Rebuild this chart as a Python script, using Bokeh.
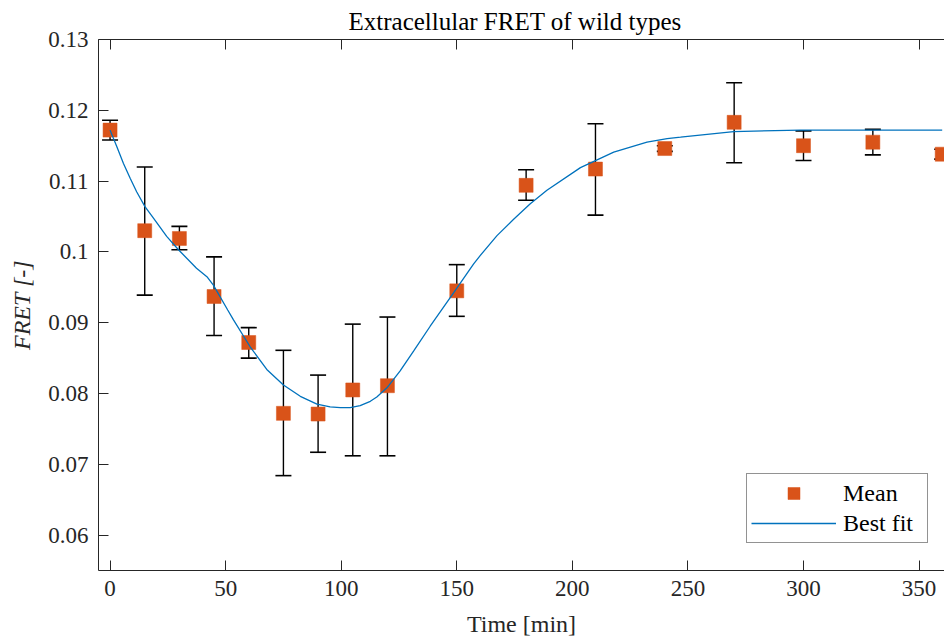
from bokeh.plotting import figure
from bokeh.models import (Range1d, LinearAxis, FixedTicker, Whisker, TeeHead,
                          ColumnDataSource, Legend, LegendItem)
from bokeh.embed import file_html
from bokeh.resources import INLINE

# ---------------- data ----------------
time_min = [0, 15, 30, 45, 60, 75, 90, 105, 120, 150, 180, 210, 240, 270, 300, 330, 360]
fret_mean = [0.1172, 0.1030, 0.1019, 0.0937, 0.0872, 0.0772, 0.0771, 0.0805, 0.0811,
             0.0945, 0.1094, 0.1117, 0.1146, 0.1183, 0.1150, 0.1155, 0.1138]
fret_upper = [0.1186, 0.1120, 0.1036, 0.0993, 0.0893, 0.0861, 0.0826, 0.0898, 0.0908,
              0.0982, 0.1116, 0.1181, 0.1150, 0.1239, 0.1171, 0.1173, 0.1145]
fret_lower = [0.1158, 0.0939, 0.1003, 0.0882, 0.0850, 0.0684, 0.0717, 0.0712, 0.0712,
              0.0909, 0.1073, 0.1052, 0.1142, 0.1126, 0.1129, 0.1137, 0.1131]

fit_time = [0, 2.9, 5.8, 8.7, 11.5, 15.1, 18.7, 24.5, 29.6, 37.4, 41.9, 44.7, 50.9,
            53.4, 60.6, 67.8, 75.0, 82.3, 89.5, 95.2, 99.6, 103.9, 108.2, 112.6,
            115.4, 119.8, 125.5, 131.3, 138.5, 148.6, 157.3, 160.2, 167.4, 174.6,
            181.8, 189.0, 203.5, 217.9, 232.3, 241.0, 246.8, 269.8, 298.7, 360.0]
fit_fret = [0.1172, 0.1149, 0.1125, 0.1104, 0.1085, 0.1064, 0.1048, 0.1022, 0.1003,
            0.0977, 0.0965, 0.0953, 0.0918, 0.0904, 0.0866, 0.0834, 0.0812, 0.0796,
            0.0785, 0.0781, 0.0780, 0.0780, 0.0783, 0.0789, 0.0795, 0.0808, 0.0832,
            0.0860, 0.0895, 0.0942, 0.0983, 0.0995, 0.1023, 0.1046, 0.1068, 0.1087,
            0.1119, 0.1141, 0.1155, 0.1160, 0.1162, 0.1170, 0.1172, 0.1172]

x_ticks = [0, 50, 100, 150, 200, 250, 300, 350]
y_ticks = [0.06, 0.07, 0.08, 0.09, 0.10, 0.11, 0.12, 0.13]
y_tick_labels = ["0.06", "0.07", "0.08", "0.09", "0.1", "0.11", "0.12", "0.13"]

title_text = "Extracellular FRET of wild types"
x_label = "Time [min]"
y_label = "FRET [-]"
legend_labels = ["Mean", "Best fit"]

# ---------------- style ----------------
FONT = "Liberation Serif"
AX = "#262626"
ORANGE = "#D95319"
BLUE = "#0072BD"

p = figure(width=944, height=639, output_backend="svg", toolbar_location=None,
           x_range=Range1d(-5, 361), y_range=Range1d(0.055, 0.13),
           min_border_left=98, min_border_right=0, min_border_top=39,
           min_border_bottom=68, title=title_text)
p.outline_line_color = None
p.xgrid.visible = False
p.ygrid.visible = False
p.background_fill_color = "white"
p.border_fill_color = "white"

p.title.text_font = FONT
p.title.text_font_size = "25px"
p.title.text_font_style = "normal"
p.title.text_color = "black"
p.title.align = "left"
p.title.offset = 250

def style_axis(ax, size="23px"):
    ax.axis_line_color = AX
    ax.axis_line_width = 1
    ax.major_tick_line_color = AX
    ax.major_tick_line_width = 1
    ax.major_tick_in = 10
    ax.major_tick_out = 0
    ax.minor_tick_in = 0
    ax.minor_tick_out = 0
    ax.minor_tick_line_color = None
    ax.major_label_text_font = FONT
    ax.major_label_text_font_size = size
    ax.major_label_text_color = AX
    ax.axis_label_text_font = FONT
    ax.axis_label_text_font_size = "24px"
    ax.axis_label_text_color = AX
    ax.axis_label_text_font_style = "normal"

xa = p.xaxis[0]
style_axis(xa)
xa.ticker = FixedTicker(ticks=x_ticks)
xa.axis_label = x_label
xa.major_label_standoff = 10
xa.axis_label_standoff = 12

ya = p.yaxis[0]
style_axis(ya)
ya.ticker = FixedTicker(ticks=y_ticks)
ya.major_label_overrides = dict(zip(y_ticks, y_tick_labels))
ya.axis_label = y_label
ya.axis_label_text_font_style = "italic"
ya.major_label_standoff = 10
ya.axis_label_standoff = 10

# top box edge with inward ticks (drawn as minor ticks so no labels are produced)
top = LinearAxis(ticker=FixedTicker(ticks=[], minor_ticks=x_ticks))
style_axis(top)
top.minor_tick_line_color = AX
top.minor_tick_line_width = 1
top.minor_tick_in = 10
top.minor_tick_out = 0
top.major_label_standoff = 0
p.add_layout(top, "above")

src = ColumnDataSource(dict(x=time_min, y=fret_mean, upper=fret_upper, lower=fret_lower))

# stems
p.segment(x0="x", y0="lower", x1="x", y1="upper", source=src,
          line_color="black", line_width=1.4)
# mean markers
sq = p.scatter(x="x", y="y", source=src, marker="square", size=14,
               fill_color=ORANGE, line_color=ORANGE, line_width=0.5)
# fitted curve
fit = p.line(fit_time, fit_fret, line_color=BLUE, line_width=1.3)
# caps
whisk = Whisker(base="x", upper="upper", lower="lower", source=src, dimension="height",
                line_alpha=0,
                upper_head=TeeHead(size=16, line_color="black", line_width=1.6),
                lower_head=TeeHead(size=16, line_color="black", line_width=1.6))
p.add_layout(whisk)

legend = Legend(items=[LegendItem(label=legend_labels[0], renderers=[sq]),
                       LegendItem(label=legend_labels[1], renderers=[fit])],
                location=(648, 27), margin=0, padding=4, spacing=0,
                glyph_width=85, glyph_height=30, label_height=30, label_width=80,
                label_standoff=7, border_line_color=AX, border_line_width=1,
                background_fill_color="white", background_fill_alpha=1,
                label_text_font=FONT, label_text_font_size="24px",
                label_text_color="black")
p.add_layout(legend)

open("out.html", "w").write(file_html(p, INLINE))
